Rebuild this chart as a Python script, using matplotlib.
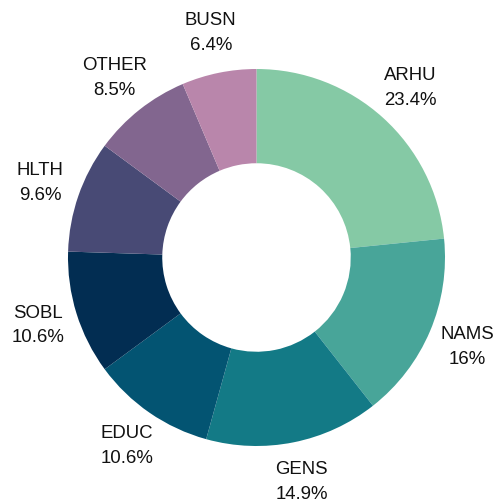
import numpy as np
import matplotlib
matplotlib.use("Agg")
import matplotlib.pyplot as plt

# Data
categories = ["ARHU", "NAMS", "GENS", "EDUC", "SOBL", "HLTH", "OTHER", "BUSN"]
shares = [23.4, 16, 14.9, 10.6, 10.6, 9.6, 8.5, 6.4]
pct_labels = ["23.4%", "16%", "14.9%", "10.6%", "10.6%", "9.6%", "8.5%", "6.4%"]
colors = ["#85C9A5", "#48A599", "#137A86", "#035472",
          "#022D52", "#484A75", "#82668F", "#B986AB"]

plt.rcParams['font.family'] = ['Liberation Sans', 'DejaVu Sans']

fig = plt.figure(figsize=(4.96, 5.04), dpi=100)
ax = fig.add_axes([0, 0, 1, 1])

cx, cy = 256.5, 246.5
r = 188.5
wedges, _ = ax.pie(shares, colors=colors, startangle=90, counterclock=False,
                   radius=r, center=(cx, cy), frame=True,
                   wedgeprops=dict(width=r * 0.5, linewidth=0))
ax.set_xlim(0, 496)
ax.set_ylim(0, 504)
ax.set_aspect('equal')
ax.axis('off')

# Labels outside each wedge
for w, cat, pl in zip(wedges, categories, pct_labels):
    ang = np.deg2rad((w.theta1 + w.theta2) / 2)
    lr = r * 1.215
    x = cx + lr * np.cos(ang)
    y = cy + lr * np.sin(ang)
    ax.text(x, y, cat + "\n" + pl, ha='center', va='center',
            fontsize=13.4, linespacing=1.6, color='#111111')

fig.savefig("out.png", dpi=100)
